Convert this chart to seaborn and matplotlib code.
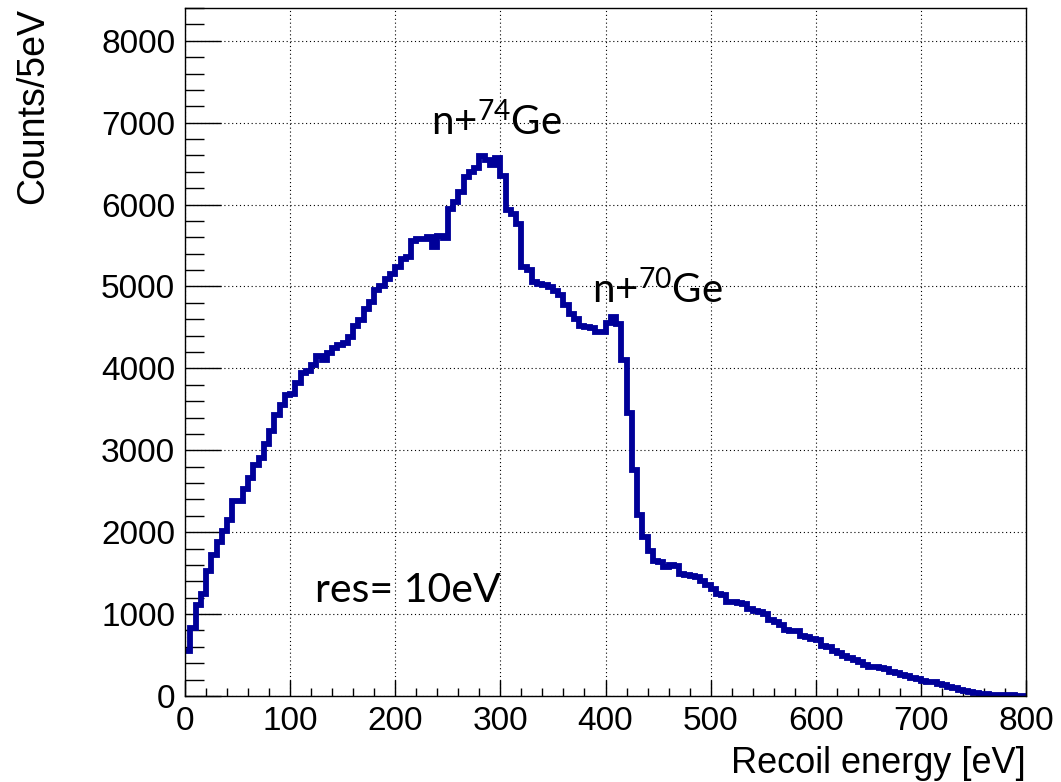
import numpy as np
import pandas as pd
import matplotlib
matplotlib.use("Agg")
import matplotlib.pyplot as plt
import seaborn as sns
from matplotlib.ticker import MultipleLocator

# Recoil spectrum, 5 eV bins from 0 to 800 eV
bin_width = 5
energy_min = 0
energy_max = 800
counts = [
    550, 825, 1110, 1250, 1530, 1720, 1880, 2020, 2150, 2380,
    2380, 2530, 2660, 2820, 2900, 3080, 3240, 3430, 3550, 3670,
    3690, 3820, 3940, 3970, 4040, 4150, 4100, 4190, 4250, 4290,
    4310, 4380, 4520, 4590, 4720, 4810, 4960, 5010, 5090, 5150,
    5240, 5330, 5360, 5550, 5580, 5580, 5600, 5480, 5620, 5590,
    5950, 6030, 6150, 6340, 6400, 6450, 6590, 6550, 6480, 6570,
    6350, 5930, 5880, 5760, 5240, 5200, 5060, 5030, 5020, 4990,
    4950, 4900, 4770, 4670, 4600, 4520, 4500, 4490, 4440, 4450,
    4550, 4630, 4540, 4100, 3450, 2760, 2210, 1940, 1770, 1650,
    1630, 1580, 1600, 1590, 1490, 1480, 1460, 1455, 1400, 1360,
    1310, 1240, 1230, 1150, 1145, 1140, 1125, 1060, 1040, 1030,
    1000, 930, 900, 870, 800, 795, 790, 730, 720, 700,
    680, 610, 600, 550, 530, 490, 470, 440, 420, 380,
    360, 355, 340, 330, 290, 280, 255, 245, 220, 205,
    185, 175, 165, 150, 140, 110, 95, 75, 60, 45,
    35, 25, 20, 18, 15, 12, 10, 8, 6, 5,
]

peak_labels = ["n+$^{74}$Ge", "n+$^{70}$Ge"]
peak_label_pos = [(234, 6840), (387, 4790)]
resolution_text = "res= 10eV"

x_label = "Recoil energy [eV]"
y_label = "Counts/5eV"

edges = np.arange(energy_min, energy_max + bin_width, bin_width)
centers = edges[:-1] + bin_width / 2
df = pd.DataFrame({"energy": centers, "counts": counts})

sns.set_style("white")
plt.rcParams["font.family"] = ["Liberation Sans", "DejaVu Sans"]
plt.rcParams["mathtext.fontset"] = "custom"
plt.rcParams["mathtext.rm"] = "Lato"
plt.rcParams["mathtext.it"] = "Lato:italic"
plt.rcParams["mathtext.bf"] = "Lato:bold"
plt.rcParams["text.color"] = "black"
plt.rcParams["axes.labelcolor"] = "black"
plt.rcParams["xtick.color"] = "black"
plt.rcParams["ytick.color"] = "black"

W, H = 1061, 782
fig = plt.figure(figsize=(W / 100, H / 100), dpi=100)
ax = fig.add_axes([185 / W, 86 / H, 841 / W, 688 / H])

sns.histplot(data=df, x="energy", weights="counts", bins=edges.tolist(),
             element="step", fill=False, color="#000099",
             linewidth=4.2, ax=ax)
for ln in ax.lines:
    ln.set_solid_joinstyle("miter")
    ln.set_solid_capstyle("butt")

ax.set_xlim(energy_min, energy_max)
ax.set_ylim(0, 8400)

ax.xaxis.set_major_locator(MultipleLocator(100))
ax.xaxis.set_minor_locator(MultipleLocator(20))
ax.yaxis.set_major_locator(MultipleLocator(1000))
ax.yaxis.set_minor_locator(MultipleLocator(200))

ax.tick_params(axis="both", which="both", direction="in", colors="black",
               labelcolor="black", width=1, labelsize=24, pad=7)
ax.tick_params(axis="x", which="major", length=11.5)
ax.tick_params(axis="x", which="minor", length=5.8)
ax.tick_params(axis="y", which="major", length=26)
ax.tick_params(axis="y", which="minor", length=13.7)
ax.tick_params(top=False, right=False, bottom=True, left=True, which="both")

ax.grid(True, which="major", color="black", linestyle=(0, (1, 2.5)),
        linewidth=0.8)
ax.set_axisbelow(True)

for s in ax.spines.values():
    s.set_visible(True)
    s.set_color("black")
    s.set_linewidth(1)

ax.set_xlabel(x_label, fontsize=26, loc="right", labelpad=7, color="black")
ax.set_ylabel(y_label, fontsize=27, loc="top", labelpad=36, color="black")

for lab, (px, py) in zip(peak_labels, peak_label_pos):
    ax.text(px, py, lab, fontsize=29, family="Lato", color="black",
            ha="left", va="baseline")
ax.text(124, 1150, resolution_text, fontsize=29.5, family="Lato",
        color="black", ha="left", va="baseline")

fig.savefig("out.png", dpi=100)
